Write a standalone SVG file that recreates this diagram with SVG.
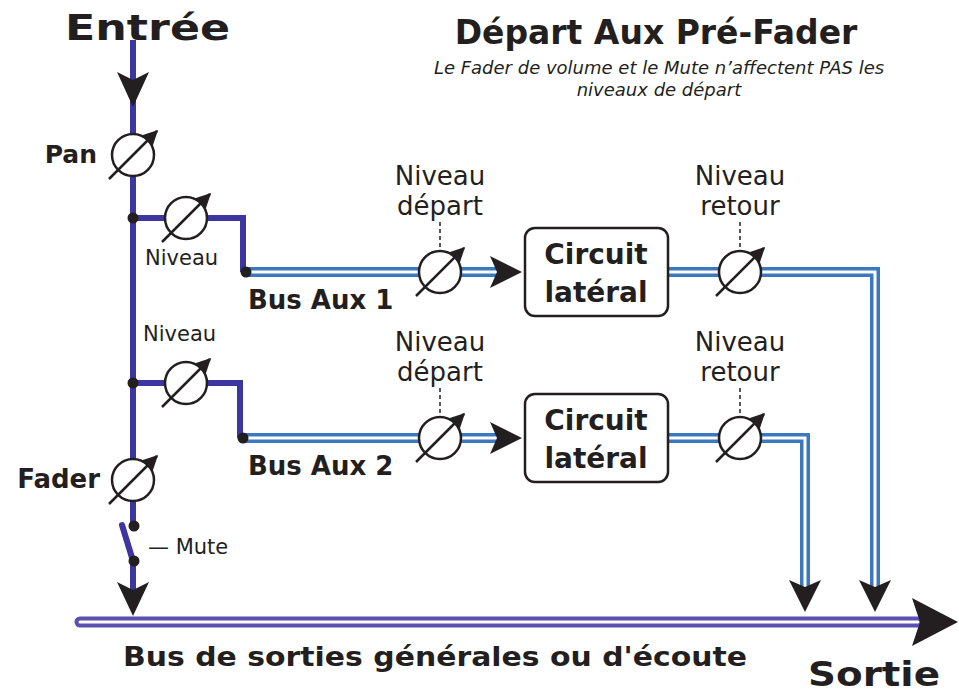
<svg xmlns="http://www.w3.org/2000/svg" width="959" height="693" viewBox="0 0 959 693">
<style>
text{font-family:"DejaVu Sans","Open Sans",sans-serif;fill:#231f20}
.b{font-weight:bold}
.n{font-size:26px}
.wire{fill:none;stroke:#3d35a0;stroke-width:6}
.pipeo{fill:none;stroke:#3b78c0;stroke-width:10}
.pipei{fill:none;stroke:#ffffff;stroke-width:3}
.mo{fill:none;stroke:#5b50b0;stroke-width:11;stroke-linecap:round}
.mi{fill:none;stroke:#ffffff;stroke-width:3;stroke-linecap:round}
.arr{fill:#231f20}
.dot{fill:#231f20}
.dash{stroke:#231f20;stroke-width:1.5;stroke-dasharray:4 3}
.box{fill:#fff;stroke:#231f20;stroke-width:2.5}
</style>
<defs>
<marker id="ah" viewBox="0 0 10 10" refX="9" refY="5" markerWidth="6" markerHeight="6" orient="auto"><path d="M0,0 L10,5 L0,10 z" fill="#231f20"/></marker>
<g id="knob"><circle r="21" fill="#fff" stroke="#231f20" stroke-width="2.5"/><line x1="-24" y1="24" x2="24" y2="-24" stroke="#231f20" stroke-width="2.5" marker-end="url(#ah)"/></g>
</defs>
<g id="connectors">
<path class="mo" d="M80,622 H918"/><path class="mi" d="M80,622 H918"/>
<polygon class="arr" points="912,598 958,622 912,646 920,622"/>
<line class="wire" x1="133" y1="40" x2="133" y2="526"/>
<line class="wire" x1="133" y1="561" x2="133" y2="595"/>
<line x1="122" y1="525" x2="133" y2="561" stroke="#3d35a0" stroke-width="6" stroke-linecap="round"/>
<polygon class="arr" points="117,72 133,107 149,72 133,80"/>
<polygon class="arr" points="117,582 133,616 149,582 133,590"/>
<path class="wire" d="M133,218 H243 V272"/>
<path class="wire" d="M133,383 H240 V438"/>
<path class="pipeo" d="M246,272 H500"/><path class="pipei" d="M246,272 H500"/>
<polygon class="arr" points="490,256 522,272 490,288 497,272"/>
<path class="pipeo" d="M243,438 H505"/><path class="pipei" d="M243,438 H505"/>
<polygon class="arr" points="490,422 522,438 490,454 497,438"/>
<path class="pipeo" d="M668,272 H875 V595"/><path class="pipei" d="M668,272 H875 V595"/>
<polygon class="arr" points="859,580 875,612 891,580 875,587"/>
<path class="pipeo" d="M668,438 H805 V590"/><path class="pipei" d="M668,438 H805 V590"/>
<polygon class="arr" points="789,580 805,612 821,580 805,587"/>
<line class="dash" x1="440" y1="222" x2="440" y2="250"/>
<line class="dash" x1="440" y1="388" x2="440" y2="416"/>
<line class="dash" x1="740" y1="222" x2="740" y2="250"/>
<line class="dash" x1="740" y1="388" x2="740" y2="416"/>
<circle class="dot" cx="133" cy="218" r="5.5"/>
<circle class="dot" cx="133" cy="383" r="5.5"/>
<circle class="dot" cx="246" cy="272" r="5.5"/>
<circle class="dot" cx="243" cy="438" r="5.5"/>
<circle class="dot" cx="134" cy="526" r="5.5"/>
<circle class="dot" cx="134" cy="561" r="5.5"/>
</g>
<g id="pan"><use href="#knob" x="133" y="155"/><text class="b" x="97" y="163" font-size="25" text-anchor="end">Pan</text></g>
<g id="niveau1"><use href="#knob" x="186" y="218"/><text x="145" y="265" font-size="21">Niveau</text></g>
<g id="niveau2"><use href="#knob" x="186" y="383"/><text x="143" y="341" font-size="21">Niveau</text></g>
<g id="fader"><use href="#knob" x="133" y="480"/><text class="b" x="100" y="488" font-size="26" text-anchor="end">Fader</text></g>
<g id="mute"><text x="148" y="554" font-size="21">— Mute</text></g>
<g id="depart1"><use href="#knob" x="440" y="272"/><text class="n" x="440" y="185" text-anchor="middle">Niveau</text><text class="n" x="440" y="215" text-anchor="middle">départ</text></g>
<g id="depart2"><use href="#knob" x="440" y="438"/><text class="n" x="440" y="351" text-anchor="middle">Niveau</text><text class="n" x="440" y="381" text-anchor="middle">départ</text></g>
<g id="retour1"><use href="#knob" x="740" y="272"/><text class="n" x="740" y="185" text-anchor="middle">Niveau</text><text class="n" x="740" y="215" text-anchor="middle">retour</text></g>
<g id="retour2"><use href="#knob" x="740" y="438"/><text class="n" x="740" y="351" text-anchor="middle">Niveau</text><text class="n" x="740" y="381" text-anchor="middle">retour</text></g>
<g id="circuit1"><rect class="box" x="525" y="228" width="143" height="88" rx="10"/><text class="b" x="596" y="264" font-size="28" text-anchor="middle">Circuit</text><text class="b" x="596" y="302" font-size="28" text-anchor="middle">latéral</text></g>
<g id="circuit2"><rect class="box" x="525" y="394" width="143" height="88" rx="10"/><text class="b" x="596" y="430" font-size="28" text-anchor="middle">Circuit</text><text class="b" x="596" y="468" font-size="28" text-anchor="middle">latéral</text></g>
<g id="labels">
<text class="b" x="65" y="40" font-size="36" textLength="165" lengthAdjust="spacingAndGlyphs">Entrée</text>
<text class="b" x="656" y="44" font-size="33" text-anchor="middle">Départ Aux Pré-Fader</text>
<text x="659" y="74" font-size="18" font-style="italic" text-anchor="middle">Le Fader de volume et le Mute n’affectent PAS les</text>
<text x="659" y="96" font-size="18" font-style="italic" text-anchor="middle">niveaux de départ</text>
<text class="b" x="248" y="309" font-size="26">Bus Aux 1</text>
<text class="b" x="248" y="475" font-size="26">Bus Aux 2</text>
<text class="b" x="435" y="666" font-size="27" text-anchor="middle" textLength="624" lengthAdjust="spacingAndGlyphs">Bus de sorties générales ou d'écoute</text>
<text class="b" x="808" y="686" font-size="34" textLength="132" lengthAdjust="spacingAndGlyphs">Sortie</text>
</g>
</svg>
